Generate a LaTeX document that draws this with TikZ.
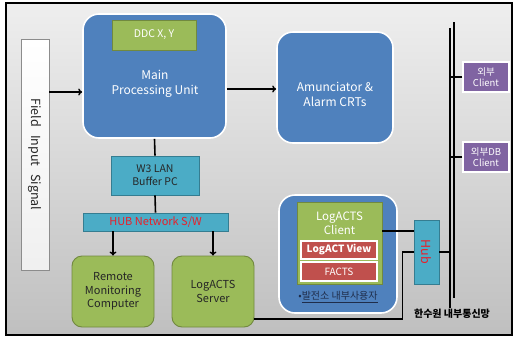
\documentclass[tikz,border=0pt]{standalone}
\usepackage{fontspec}
\setmainfont{Noto Sans CJK KR}
\usetikzlibrary{arrows.meta}
\definecolor{cblue}{HTML}{4F81BD}
\definecolor{cgreen}{HTML}{9BBB59}
\definecolor{cgreenb}{HTML}{71893F}
\definecolor{cteal}{HTML}{4BACC6}
\definecolor{ctealb}{HTML}{357D91}
\definecolor{cpurple}{HTML}{8064A2}
\definecolor{cred}{HTML}{C0504D}
\definecolor{ctxt}{HTML}{262626}
\definecolor{cnavy}{HTML}{1F2D4A}
\definecolor{chub}{HTML}{E8202A}
\tikzset{
  bluebox/.style={draw=white, line width=1.6pt, fill=cblue, rounded corners=16pt, inner sep=0pt},
  greenbox/.style={draw=cgreenb, line width=0.9pt, fill=cgreen, inner sep=0pt},
  greenround/.style={greenbox, rounded corners=10pt, text=ctxt, align=center, font=\fontsize{11}{13.5}\selectfont},
  tealbox/.style={draw=ctealb, line width=0.9pt, fill=cteal, inner sep=0pt, align=center},
  purplebox/.style={draw=white, line width=1.2pt, fill=cpurple, inner sep=0pt, text=white, align=center, font=\fontsize{9.5}{11.5}\selectfont},
  redbox/.style={draw=white, line width=1.2pt, fill=cred, inner sep=0pt, text=white, font=\fontsize{10}{12}\selectfont},
  wtext/.style={text=white, align=center},
  conn/.style={line width=1.6pt, black},
  arr/.style={conn, -{To[length=4pt,width=7pt,line width=1.4pt]}},
}
\begin{document}
\begin{tikzpicture}[x=1pt,y=-1pt]
\useasboundingbox (0,0) rectangle (514,338);
% frame
\shade[top color=gray!13, bottom color=gray!50] (6,3) rectangle (512,335);
\draw[line width=1.8pt, black] (6,3) rectangle (512,335);

% field input
\node[rotate=-90, draw=gray!90, line width=0.6pt, top color=white, bottom color=gray!12,
      minimum width=231pt, minimum height=28pt, inner sep=0pt, text=ctxt,
      font=\fontsize{12.5}{14}\selectfont] (field) at (35,154.5)
      {Field\hspace{8pt}Input\hspace{8pt}Signal};

% main processing unit
\node[bluebox, minimum width=143pt, minimum height=124pt] (mpu) at (154.5,76) {};
\node[greenbox, minimum width=84pt, minimum height=30pt, wtext, font=\fontsize{10.5}{12}\selectfont] (ddc) at (154,35) {DDC X, Y};
\node[wtext, font=\fontsize{12}{15}\selectfont] (mputxt) at (155,84) {Main\\Processing Unit};

% amunciator
\node[bluebox, minimum width=116pt, minimum height=111pt] (amu) at (335,87.5) {};
\node[wtext, font=\fontsize{12}{15}\selectfont] (amutxt) at (335,94) {Amunciator \&\\Alarm CRTs};

% W3 LAN, HUB
\node[tealbox, minimum width=88pt, minimum height=39pt, text=ctxt, font=\fontsize{10.5}{13}\selectfont] (w3) at (155,175.5) {W3 LAN\\Buffer PC};
\node[tealbox, minimum width=145pt, minimum height=18pt, text=chub, font=\fontsize{11}{13}\selectfont] (hubsw) at (155.5,222) {HUB Network S/W};

% remote, server
\node[greenround, minimum width=82pt, minimum height=71pt] (remote) at (113,291.5) {Remote\\Monitoring\\Computer};
\node[greenround, minimum width=82pt, minimum height=71pt] (server) at (213,291.5) {LogACTS\\Server};

% LogACTS client group
\node[bluebox, minimum width=118pt, minimum height=118pt] (cgroup) at (338,254) {};
\node[greenbox, minimum width=85pt, minimum height=82pt] (client) at (339.5,243) {};
\node[wtext, font=\fontsize{11.5}{13.5}\selectfont] (clienttxt) at (339.5,223.5) {LogACTS\\Client};
\node[redbox, minimum width=76pt, minimum height=18pt, font=\bfseries\fontsize{10}{12}\selectfont] (view) at (339,250) {LogACT View};
\node[redbox, minimum width=76pt, minimum height=19pt] (facts) at (339,271.5) {FACTS};
\node[text=cnavy, font=\fontsize{10}{12}\selectfont, inner sep=1pt] (insider) at (338,297) {•\underline{발전소 내부사용자}};

% Hub
\node[tealbox, minimum width=25pt, minimum height=64pt] (hub) at (426.5,252) {};
\node[rotate=-90, text=chub, font=\fontsize{12.5}{14}\selectfont, inner sep=0pt] (hubtxt) at (hub.center) {Hub};

% external clients
\node[purplebox, minimum width=46pt, minimum height=30pt] (ext1) at (486,77) {외부\\Client};
\node[purplebox, minimum width=46pt, minimum height=30pt] (ext2) at (486,157) {외부DB\\Client};

% network bus
\coordinate (busAtop) at (450,28);
\coordinate (busAbot) at (450,308);
\coordinate (busBtop) at (454,22);
\coordinate (busBbot) at (454,298);
\draw[conn] (busAtop) -- (busAbot);
\draw[conn] (busBtop) -- (busBbot);
\node[font=\bfseries\fontsize{10}{12}\selectfont, text=black] (net) at (452,314) {한수원 내부통신망};

% connectors
\coordinate (mpuin) at (mpu.west |- 0,92);
\draw[arr] (field.north |- mpuin) -- (mpuin);
\coordinate (amuin) at (amu.west |- 0,89);
\draw[arr] (mpu.east |- amuin) -- (amuin);
\draw[conn] (mpu.south) -- (w3.north);
\draw[conn] (w3.south) -- (hubsw.north);
\draw[arr] (hubsw.south -| remote.north) -- (remote.north);
\draw[arr] (hubsw.south -| server.north) -- (server.north);
\coordinate (hubin) at (hub.west |- 0,231);
\draw[conn] (client.east |- hubin) -- (hubin);
\draw[conn] (hub.east) -- (hub.east -| busAtop);
\coordinate (srvin) at (server.east |- 0,319);
\draw[conn] (hub.west) -- ++(-11,0) |- (srvin);
\draw[conn] (ext1.west) -- (ext1.west -| busAtop);
\draw[conn] (ext2.west) -- (ext2.west -| busAtop);
\end{tikzpicture}
\end{document}
